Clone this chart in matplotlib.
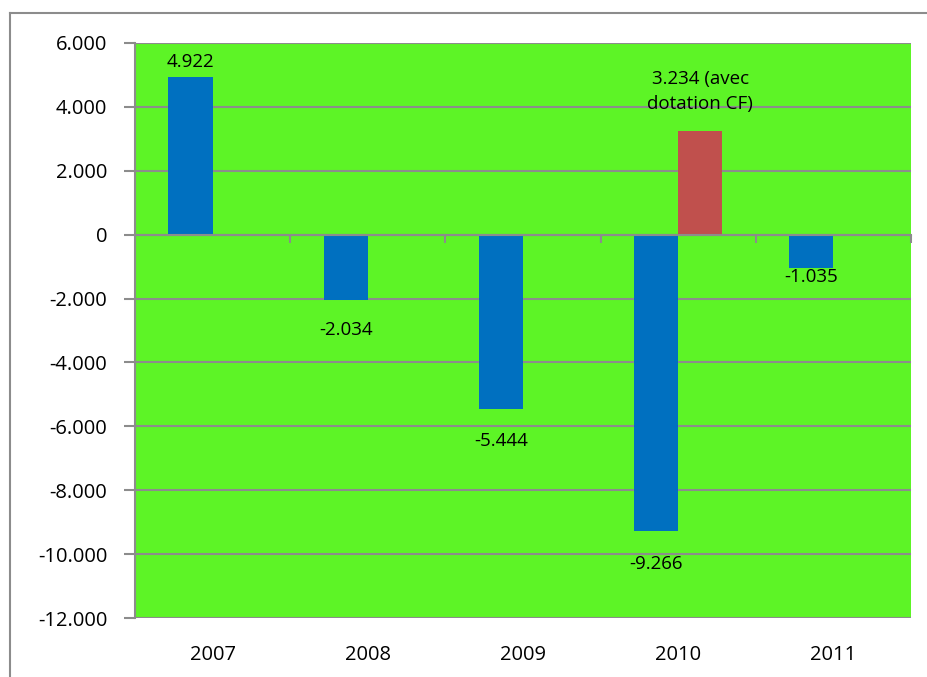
import matplotlib.pyplot as plt
from matplotlib.lines import Line2D
from matplotlib.ticker import FuncFormatter
import matplotlib.transforms as mtransforms

years = ['2007', '2008', '2009', '2010', '2011']
resultat = [4922, -2034, -5444, -9266, -1035]
avec_cf = [0, 0, 0, 3234, 0]
labels_blue = ['4.922', '-2.034', '-5.444', '-9.266', '-1.035']
label_red = '3.234 (avec\ndotation CF)'
y_ticks = [6000, 4000, 2000, 0, -2000, -4000, -6000, -8000, -10000, -12000]

plt.rcParams['font.family'] = ['Open Sans', 'DejaVu Sans']
grid_col = '#8c8c8c'

fig = plt.figure(figsize=(9.28, 6.77), dpi=100)
# outer chart frame (cropped on right and bottom)
fig.add_artist(Line2D([10 / 928, 1.0], [1 - 13 / 677, 1 - 13 / 677], color=grid_col, lw=1.5))
fig.add_artist(Line2D([10 / 928, 10 / 928], [0, 1 - 13 / 677], color=grid_col, lw=1.5))

ax = fig.add_axes([135 / 928, 59 / 677, 776 / 928, 575 / 677])
ax.set_facecolor('#5df426')

x = range(len(years))
w = 0.285
ax.bar([i - w / 2 for i in x], resultat, width=w, color='#0070c0', zorder=3)
ax.bar([i + w / 2 for i in x], avec_cf, width=w, color='#c0504d', zorder=3)

ax.set_xlim(-0.5, 4.5)
ax.set_ylim(-12000, 6000)
ax.set_yticks(y_ticks)
ax.yaxis.set_major_formatter(FuncFormatter(
    lambda v, p: '0' if v == 0 else f'{int(v):,}'.replace(',', '.')))
ax.grid(axis='y', color=grid_col, lw=1.5, zorder=1)
ax.tick_params(axis='y', length=8, width=1.5, color=grid_col, pad=12, labelsize=14.5)

for s in ['top', 'right']:
    ax.spines[s].set_visible(False)
ax.spines['left'].set_color(grid_col)
ax.spines['left'].set_linewidth(1.5)
ax.spines['bottom'].set_position(('data', 0))
ax.spines['bottom'].set_color(grid_col)
ax.spines['bottom'].set_linewidth(1.5)
ax.spines['bottom'].set_zorder(4)
ax.set_xticks([0.5, 1.5, 2.5, 3.5, 4.5])
ax.tick_params(axis='x', length=6, width=1.5, color=grid_col, labelbottom=False)

trans = mtransforms.blended_transform_factory(ax.transData, ax.transAxes)
for i, yr in enumerate(years):
    ax.text(i, -0.065, yr, transform=trans, ha='center', va='center', fontsize=14.5)

# data labels
offsets = [11, -22, -23, -24, -7]
for i, (v, lab) in enumerate(zip(resultat, labels_blue)):
    ax.annotate(lab, (i - w / 2, v), xytext=(0, offsets[i]), textcoords='offset points',
                ha='center', va='center', fontsize=13.5, zorder=5)
ax.annotate(label_red, (3 + w / 2, avec_cf[3]), xytext=(0, 29), textcoords='offset points',
            ha='center', va='center', fontsize=13.5, linespacing=1.5, zorder=5)

plt.savefig('out.png', dpi=100)
plt.close()
